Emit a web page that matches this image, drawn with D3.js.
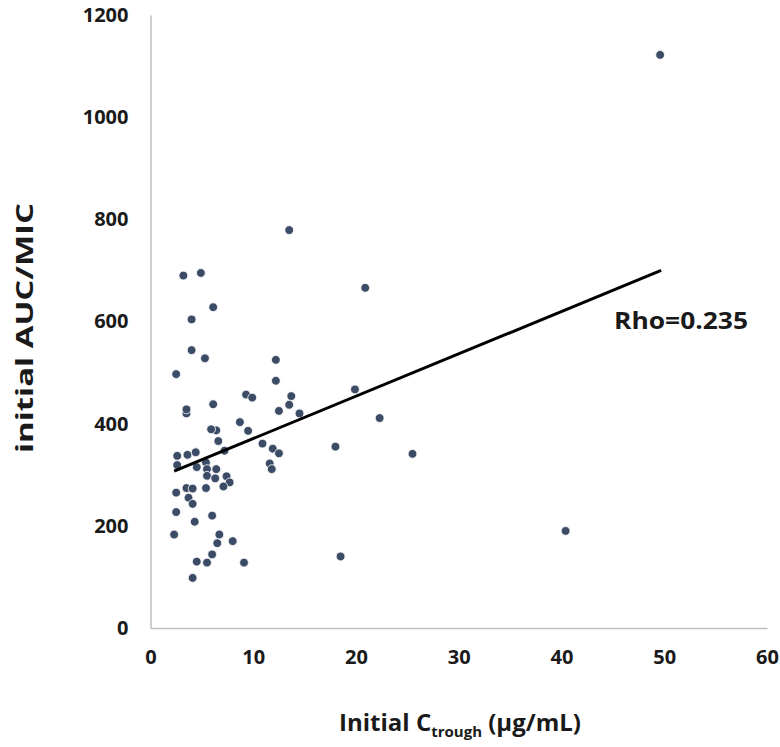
<!DOCTYPE html>
<html>
<head>
<meta charset="utf-8">
<script src="https://cdn.jsdelivr.net/npm/d3@7/dist/d3.min.js"></script>
<style>
  html, body { margin: 0; padding: 0; background: #ffffff; }
  svg { display: block; }
  text { font-family: "Open Sans", "Noto Sans", sans-serif; font-weight: bold; fill: #1a1a1a; }
</style>
</head>
<body>
<svg id="chart" width="780" height="747"></svg>
<script>
const xTicks = [0, 10, 20, 30, 40, 50, 60];
const yTicks = [0, 200, 400, 600, 800, 1000, 1200];

const ctrough = [
  3.2, 4.9, 6.1, 4.0, 4.0, 5.3, 2.5, 9.3, 9.9, 6.1,
  3.5, 3.5, 8.7, 9.5, 6.4, 5.9, 6.6, 2.6, 3.6, 4.4,
  7.2, 2.6, 4.5, 5.4, 5.5, 6.4, 5.5, 6.3, 7.4, 7.7,
  7.1, 5.4, 3.5, 4.1, 2.5, 3.7, 4.1, 2.5, 6.0, 4.3,
  2.3, 6.7, 6.5, 8.0, 6.0, 4.5, 5.5, 9.1, 4.1, 12.2,
  12.2, 13.7, 13.5, 12.5, 14.5, 10.9, 11.9, 12.5, 11.6, 11.8,
  18.0, 19.9, 20.9, 22.3, 25.5, 40.4, 18.5, 13.5, 49.6
];
const aucMic = [
  690, 695, 628, 604, 544, 528, 497, 457, 451, 438,
  420, 428, 403, 386, 387, 389, 366, 337, 339, 344,
  347, 319, 315, 324, 311, 311, 298, 293, 297, 285,
  277, 274, 274, 273, 265, 255, 243, 227, 220, 208,
  183, 183, 166, 170, 144, 130, 128, 128, 98, 525,
  484, 454, 437, 425, 420, 361, 351, 342, 322, 311,
  355, 467, 666, 411, 341, 190, 140, 779, 1122
];
const trendX = [2.3, 49.7];
const trendY = [307, 700];
const rhoLabel = "Rho=0.235";

const svg = d3.select("#chart");
const x = d3.scaleLinear().domain([0, 60]).range([150.5, 767]);
const y = d3.scaleLinear().domain([0, 1200]).range([628, 15]);

// axes
const yAxis = svg.append("g").attr("transform", `translate(${x(0)},0)`)
  .call(d3.axisLeft(y).tickValues(yTicks).tickSize(0).tickPadding(22).tickFormat(d3.format("d")));
yAxis.select(".domain").attr("stroke", "#bfbfbf").attr("stroke-width", 1.5);
yAxis.selectAll("text").style("font-size", "20px").attr("fill", "#1a1a1a");

const xAxis = svg.append("g").attr("transform", `translate(0,${y(0)})`)
  .call(d3.axisBottom(x).tickValues(xTicks).tickSize(0).tickPadding(22).tickFormat(d3.format("d")));
xAxis.select(".domain").attr("stroke", "#bfbfbf").attr("stroke-width", 1.5);
xAxis.selectAll("text").style("font-size", "20px").attr("fill", "#1a1a1a");

// points
const pts = ctrough.map((v, i) => ({ x: v, y: aucMic[i] }));
svg.append("g").selectAll("circle").data(pts).join("circle")
  .attr("cx", d => x(d.x))
  .attr("cy", d => y(d.y))
  .attr("r", 4.4)
  .attr("fill", "#3d4c66")
  .attr("stroke", "#ffffff")
  .attr("stroke-width", 0.8);

// trend line
svg.append("line")
  .attr("x1", x(trendX[0])).attr("y1", y(trendY[0]))
  .attr("x2", x(trendX[1])).attr("y2", y(trendY[1]))
  .attr("stroke", "#000000").attr("stroke-width", 3);

// rho label
svg.append("text")
  .attr("x", 614).attr("y", 329)
  .attr("textLength", 134)
  .attr("lengthAdjust", "spacingAndGlyphs")
  .style("font-size", "23px")
  .text(rhoLabel);

// axis titles
svg.append("text")
  .attr("transform", "translate(33,328) rotate(-90)")
  .attr("text-anchor", "middle")
  .attr("textLength", 250)
  .attr("lengthAdjust", "spacingAndGlyphs")
  .style("font-size", "23px")
  .text("initial AUC/MIC");

const xt = svg.append("text")
  .attr("x", 460).attr("y", 731)
  .attr("text-anchor", "middle")
  .style("font-size", "24px");
xt.append("tspan").text("Initial C");
xt.append("tspan").attr("dy", 6).style("font-size", "15px").text("trough");
xt.append("tspan").attr("dy", -6).text(" (μg/mL)");
</script>
</body>
</html>
